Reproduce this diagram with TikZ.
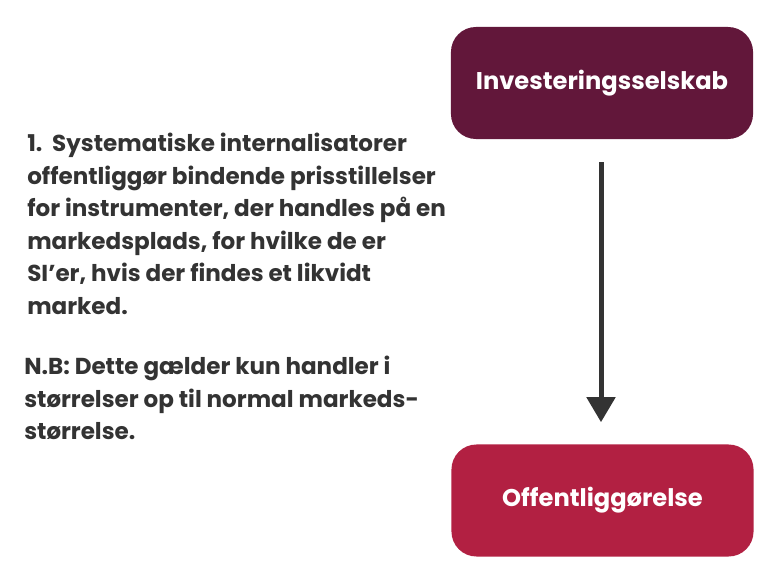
\documentclass[tikz,border=0pt]{standalone}
\usepackage{fontspec}
\setmainfont{Poppins}
\usetikzlibrary{arrows.meta,positioning}
\definecolor{firmcol}{HTML}{62173A}
\definecolor{pubcol}{HTML}{B22042}
\definecolor{notecol}{HTML}{333333}
\tikzset{
    stepbox/.style={rounded corners=0.625cm,minimum width=7.55cm,minimum height=2.8cm,text=white,font=\fontsize{17.2}{20}\selectfont\bfseries},
    notetext/.style={anchor=north west,align=left,inner sep=0pt,text=notecol,font=\fontsize{16.4}{23.1}\selectfont\bfseries}
}
\begin{document}
\begin{tikzpicture}[x=0.025cm,y=-0.025cm]

    \useasboundingbox (0,0) rectangle (768,576);

    \node[stepbox,fill=firmcol] (firm) at (602,83) {Investeringsselskab};
    \node[stepbox,fill=pubcol] (pub) at (602.5,500.5) {Offentliggørelse};

    \node[notetext] (note1) at (27,133) {1.\ \ Systematiske internalisatorer\\offentliggør bindende prisstillelser\\for instrumenter, der handles på en\\markedsplads, for hvilke de er\\SI’er, hvis der findes et likvidt\\marked.};
    \node[notetext] (note2) at (24,356) {N.B: Dette gælder kun handler i\\størrelser op til normal markeds-\\størrelse.};

    \draw[-{Triangle[width=0.7cm,length=0.625cm]}, line width=0.125cm, draw=notecol, shorten <=0.575cm, shorten >=0.55cm] (firm.south -| 601,0) -- (pub.north -| 601,0);

\end{tikzpicture}
\end{document}
